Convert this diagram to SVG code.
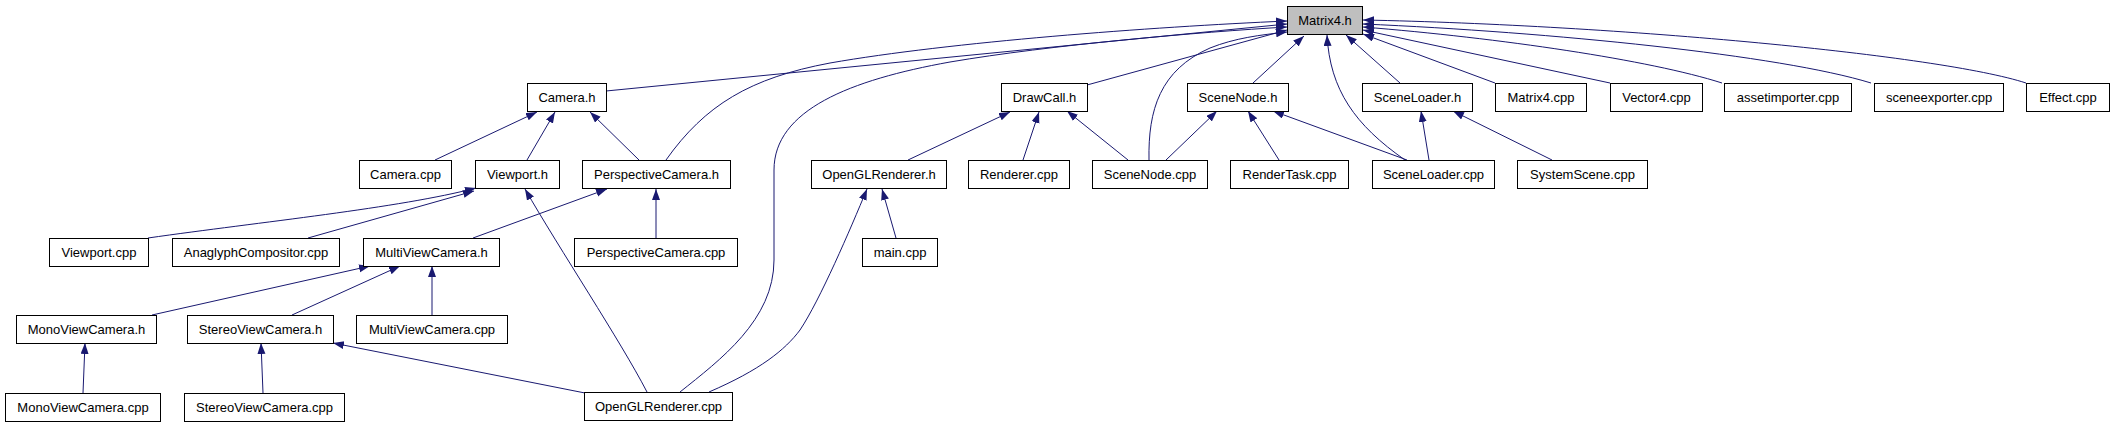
<svg xmlns="http://www.w3.org/2000/svg" width="2115" height="427" viewBox="0 0 2115 427">
<defs>
<style>
.n rect{fill:#ffffff;stroke:#000000;stroke-width:1}
.n.root rect{fill:#bfbfbf}
.n text{font-family:"Liberation Sans",Arial,sans-serif;font-size:13px;text-anchor:middle;fill:#000000}
.e path{fill:none;stroke:#191970;stroke-width:1;marker-end:url(#arr)}
</style>
<marker id="arr" markerUnits="userSpaceOnUse" markerWidth="12" markerHeight="9" refX="11" refY="4" orient="auto">
<path d="M0,0 L11,4 L0,8 z" fill="#191970"/>
</marker>
</defs>
<rect width="2115" height="427" fill="#ffffff"/>
<g id="edges" class="e">
<path d="M666,160 C705,105 750,78 830,63 C950,42 1150,27 1287,21"/>
<path d="M606,91 L1287,24"/>
<path d="M680,392 C720,360 774,320 774,260 L774,170 C774,110 850,80 950,62 C1050,45 1200,32 1287,27"/>
<path d="M1087,85 L1287,30"/>
<path d="M1149,160 C1148,110 1160,70 1210,48 C1235,38 1260,35 1287,32"/>
<path d="M1253,83 L1304,36"/>
<path d="M1405,160 C1355,125 1330,90 1327,35"/>
<path d="M1400,83 L1346,35"/>
<path d="M1495,83 L1363,34"/>
<path d="M1610,83 L1363,30"/>
<path d="M1722,83 C1650,60 1500,38 1363,27"/>
<path d="M1871,83 C1780,55 1550,32 1363,24"/>
<path d="M2026,83 C1940,55 1620,25 1363,20"/>
<path d="M435,160 L537,112"/>
<path d="M527,160 L555,112"/>
<path d="M639,160 L590,112"/>
<path d="M148,238 C260,222 400,208 476,188"/>
<path d="M308,238 L474,191"/>
<path d="M647,392 C620,340 560,250 525,189"/>
<path d="M473,238 L607,189"/>
<path d="M656,238 L656,189"/>
<path d="M152,315 L370,266"/>
<path d="M292,315 L400,266"/>
<path d="M432,315 L432,266"/>
<path d="M83,393 L85,343"/>
<path d="M263,393 L261,343"/>
<path d="M585,393 L333,343"/>
<path d="M908,160 L1010,112"/>
<path d="M1023,160 L1039,112"/>
<path d="M1128,160 L1067,111"/>
<path d="M1166,160 L1217,111"/>
<path d="M1279,160 L1248,111"/>
<path d="M1407,160 L1273,111"/>
<path d="M1429,160 L1421,111"/>
<path d="M1552,160 L1453,111"/>
<path d="M896,238 L882,189"/>
<path d="M709,392 C760,370 785,350 800,330 C820,300 850,230 867,189"/>
</g>
<g id="n-matrix4h" class="n root"><rect x="1287.5" y="6.5" width="75" height="28"/><text x="1325" y="25">Matrix4.h</text></g>
<g id="n-camerah" class="n"><rect x="527.5" y="83.5" width="79" height="28"/><text x="567" y="102">Camera.h</text></g>
<g id="n-drawcallh" class="n"><rect x="1001.5" y="83.5" width="86" height="28"/><text x="1044.5" y="102">DrawCall.h</text></g>
<g id="n-scenenodeh" class="n"><rect x="1187.5" y="83.5" width="101" height="28"/><text x="1238" y="102">SceneNode.h</text></g>
<g id="n-sceneloaderh" class="n"><rect x="1362.5" y="83.5" width="110" height="28"/><text x="1417.5" y="102">SceneLoader.h</text></g>
<g id="n-matrix4cpp" class="n"><rect x="1495.5" y="83.5" width="91" height="28"/><text x="1541" y="102">Matrix4.cpp</text></g>
<g id="n-vector4cpp" class="n"><rect x="1610.5" y="83.5" width="92" height="28"/><text x="1656.5" y="102">Vector4.cpp</text></g>
<g id="n-assetimporter" class="n"><rect x="1724.5" y="83.5" width="127" height="28"/><text x="1788" y="102">assetimporter.cpp</text></g>
<g id="n-sceneexporter" class="n"><rect x="1874.5" y="83.5" width="129" height="28"/><text x="1939" y="102">sceneexporter.cpp</text></g>
<g id="n-effectcpp" class="n"><rect x="2026.5" y="83.5" width="83" height="28"/><text x="2068" y="102">Effect.cpp</text></g>
<g id="n-cameracpp" class="n"><rect x="359.5" y="160.5" width="92" height="28"/><text x="405.5" y="179">Camera.cpp</text></g>
<g id="n-viewporth" class="n"><rect x="475.5" y="160.5" width="84" height="28"/><text x="517.5" y="179">Viewport.h</text></g>
<g id="n-perspectivecamerah" class="n"><rect x="582.5" y="160.5" width="148" height="28"/><text x="656.5" y="179">PerspectiveCamera.h</text></g>
<g id="n-openglrendererh" class="n"><rect x="811.5" y="160.5" width="135" height="28"/><text x="879" y="179">OpenGLRenderer.h</text></g>
<g id="n-renderercpp" class="n"><rect x="968.5" y="160.5" width="101" height="28"/><text x="1019" y="179">Renderer.cpp</text></g>
<g id="n-scenenodecpp" class="n"><rect x="1092.5" y="160.5" width="115" height="28"/><text x="1150" y="179">SceneNode.cpp</text></g>
<g id="n-rendertaskcpp" class="n"><rect x="1230.5" y="160.5" width="118" height="28"/><text x="1289.5" y="179">RenderTask.cpp</text></g>
<g id="n-sceneloadercpp" class="n"><rect x="1372.5" y="160.5" width="122" height="28"/><text x="1433.5" y="179">SceneLoader.cpp</text></g>
<g id="n-systemscenecpp" class="n"><rect x="1517.5" y="160.5" width="130" height="28"/><text x="1582.5" y="179">SystemScene.cpp</text></g>
<g id="n-viewportcpp" class="n"><rect x="49.5" y="238.5" width="99" height="28"/><text x="99" y="257">Viewport.cpp</text></g>
<g id="n-anaglyph" class="n"><rect x="172.5" y="238.5" width="167" height="28"/><text x="256" y="257">AnaglyphCompositor.cpp</text></g>
<g id="n-multiviewcamerah" class="n"><rect x="363.5" y="238.5" width="136" height="28"/><text x="431.5" y="257">MultiViewCamera.h</text></g>
<g id="n-perspectivecameracpp" class="n"><rect x="574.5" y="238.5" width="163" height="28"/><text x="656" y="257">PerspectiveCamera.cpp</text></g>
<g id="n-maincpp" class="n"><rect x="862.5" y="238.5" width="75" height="28"/><text x="900" y="257">main.cpp</text></g>
<g id="n-monoviewcamerah" class="n"><rect x="16.5" y="315.5" width="140" height="28"/><text x="86.5" y="334">MonoViewCamera.h</text></g>
<g id="n-stereoviewcamerah" class="n"><rect x="187.5" y="315.5" width="146" height="28"/><text x="260.5" y="334">StereoViewCamera.h</text></g>
<g id="n-multiviewcameracpp" class="n"><rect x="356.5" y="315.5" width="151" height="28"/><text x="432" y="334">MultiViewCamera.cpp</text></g>
<g id="n-monoviewcameracpp" class="n"><rect x="5.5" y="393.5" width="155" height="28"/><text x="83" y="412">MonoViewCamera.cpp</text></g>
<g id="n-stereoviewcameracpp" class="n"><rect x="184.5" y="393.5" width="160" height="28"/><text x="264.5" y="412">StereoViewCamera.cpp</text></g>
<g id="n-openglrenderercpp" class="n"><rect x="584.5" y="392.5" width="148" height="28"/><text x="658.5" y="411">OpenGLRenderer.cpp</text></g>
</svg>
